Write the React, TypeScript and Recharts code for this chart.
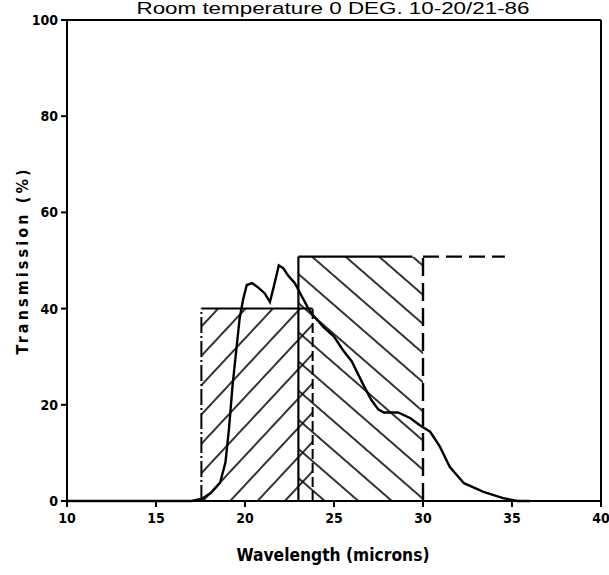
import React from 'react';
import { ComposedChart, Line, XAxis, YAxis, ReferenceArea, ReferenceLine } from 'recharts';

// Measured transmission curve
const wavelength = [10, 17, 17.6, 18.1, 18.6, 18.9, 19.1, 19.3, 19.5, 19.7, 19.9, 20.1, 20.4, 20.7, 21.1, 21.4, 21.6, 21.9, 22.15, 22.4, 22.8, 23.1, 23.5, 23.8, 24.4, 25.0, 25.5, 26.0, 26.6, 27.1, 27.5, 27.8, 28.6, 29.3, 29.8, 30.4, 30.95, 31.5, 32.3, 33.4, 34.5, 35.3, 36];
const transmission = [0, 0, 0.5, 1.7, 3.8, 8, 15, 24, 31, 38, 42, 44.9, 45.3, 44.5, 43.2, 41.4, 44.3, 49, 48.4, 47, 45.3, 43.2, 40.4, 38.7, 36.2, 34.2, 31.4, 29, 24.5, 21, 19, 18.4, 18.4, 17.2, 15.8, 14.4, 11.3, 7.1, 3.7, 1.9, 0.6, 0, 0];

// Filter pass bands (hatched boxes)
const bandStart = [17.55, 23.0];
const bandEnd = [23.8, 30.0];
const bandTop = [40, 50.8];
const bandSolidTopEnd = 29.4;
const bandDashedTopEnd = 34.6;

const xTicks = [10, 15, 20, 25, 30, 35, 40];
const yTicks = [0, 20, 40, 60, 80, 100];

const titleText = 'Room temperature  0 DEG.  10-20/21-86';
const xTitle = 'Wavelength (microns)';
const yTitle = 'Transmission (%)';

const data = wavelength.map((w, i) => ({ w, t: transmission[i] }));

const FONT = '"DejaVu Sans Condensed", "DejaVu Sans", sans-serif';

const Title = (props: any) => {
  const vb = props.viewBox || {};
  return (
    <text x={333} y={vb.y - 6} textAnchor="middle" fontFamily='"Liberation Sans", sans-serif' fontSize={16} fill="#000" textLength={393} lengthAdjust="spacingAndGlyphs">
      {titleText}
    </text>
  );
};

const YTitle = () => (
  <text x={22} y={262} transform="rotate(-90, 22, 262)" textAnchor="middle" dominantBaseline="central" fontFamily={FONT} fontWeight="bold" fontSize={16} fill="#000" textLength={185} lengthAdjust="spacing">
    {yTitle}
  </text>
);

const XTitle = () => (
  <text x={333} y={561} textAnchor="middle" fontFamily={FONT} fontWeight="bold" fontSize={18} fill="#000" textLength={193} lengthAdjust="spacingAndGlyphs">
    {xTitle}
  </text>
);

export default function App() {
  return (
    <div style={{ position: 'absolute', left: 0, top: 0, background: '#fff' }}>
      <ComposedChart width={609} height={575} data={data} margin={{ top: 20, right: 8, left: 0, bottom: 0 }}>
        <defs>
          <pattern id="hatchL" patternUnits="userSpaceOnUse" width={20} height={20} patternTransform="rotate(43)">
            <line x1={10} y1={0} x2={10} y2={20} stroke="#000" strokeWidth={1.6} />
          </pattern>
          <pattern id="hatchR" patternUnits="userSpaceOnUse" width={22} height={22} patternTransform="rotate(-49)">
            <line x1={11} y1={0} x2={11} y2={22} stroke="#000" strokeWidth={1.6} />
          </pattern>
        </defs>
        <XAxis
          type="number"
          dataKey="w"
          domain={[10, 40]}
          ticks={xTicks}
          interval={0}
          height={74}
          tickSize={6}
          tickMargin={6}
          axisLine={{ stroke: '#000', strokeWidth: 2 }}
          tickLine={{ stroke: '#000', strokeWidth: 2 }}
          tick={{ fill: '#000', fontSize: 14, fontWeight: 'bold', fontFamily: FONT }}
          label={{ content: <XTitle /> }}
        />
        <YAxis
          type="number"
          domain={[0, 100]}
          ticks={yTicks}
          interval={0}
          width={67}
          tickSize={6}
          tickMargin={3}
          axisLine={{ stroke: '#000', strokeWidth: 2 }}
          tickLine={{ stroke: '#000', strokeWidth: 2 }}
          tick={{ fill: '#000', fontSize: 14, fontWeight: 'bold', fontFamily: FONT }}
          label={{ content: <YTitle /> }}
        />
        <ReferenceArea x1={bandStart[0]} x2={bandEnd[0]} y1={0} y2={bandTop[0]} fill="url(#hatchL)" fillOpacity={1} stroke="none" />
        <ReferenceArea x1={bandStart[1]} x2={bandEnd[1]} y1={0} y2={bandTop[1]} fill="url(#hatchR)" fillOpacity={1} stroke="none" />
        {/* left band outline */}
        <ReferenceLine segment={[{ x: bandStart[0], y: 0 }, { x: bandStart[0], y: bandTop[0] }]} stroke="#000" strokeWidth={2} strokeDasharray="16 3 2 3" />
        <ReferenceLine segment={[{ x: bandStart[0], y: bandTop[0] }, { x: bandEnd[0], y: bandTop[0] }]} stroke="#000" strokeWidth={2} />
        <ReferenceLine segment={[{ x: bandEnd[0], y: 0 }, { x: bandEnd[0], y: bandTop[0] }]} stroke="#000" strokeWidth={2} strokeDasharray="10 4" />
        {/* right band outline */}
        <ReferenceLine segment={[{ x: bandStart[1], y: 0 }, { x: bandStart[1], y: bandTop[1] }]} stroke="#000" strokeWidth={2.2} />
        <ReferenceLine segment={[{ x: bandStart[1], y: bandTop[1] }, { x: bandSolidTopEnd, y: bandTop[1] }]} stroke="#000" strokeWidth={2.2} />
        <ReferenceLine segment={[{ x: bandEnd[1], y: 0 }, { x: bandEnd[1], y: bandTop[1] }]} stroke="#000" strokeWidth={2.4} strokeDasharray="18 7" />
        <ReferenceLine segment={[{ x: bandEnd[1], y: bandTop[1] }, { x: bandDashedTopEnd, y: bandTop[1] }]} stroke="#000" strokeWidth={2.4} strokeDasharray="16 7" />
        {/* frame */}
        <ReferenceLine y={100} stroke="#000" strokeWidth={2} label={{ content: <Title /> }} />
        <ReferenceLine x={40} stroke="#000" strokeWidth={2} />
        <Line type="linear" dataKey="t" stroke="#000" strokeWidth={2.4} dot={false} isAnimationActive={false} />
      </ComposedChart>
    </div>
  );
}
